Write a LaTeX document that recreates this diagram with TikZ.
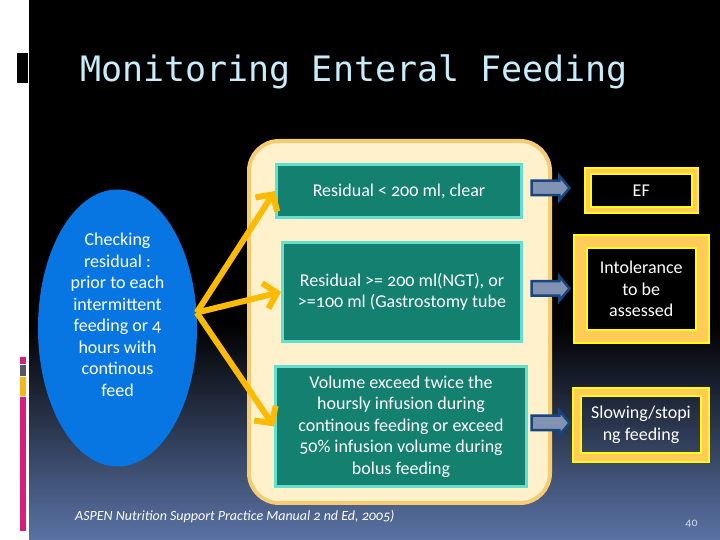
\documentclass[tikz,border=0pt]{standalone}
\usepackage{fontspec}
\setmainfont{Carlito}[Numbers=OldStyle]
\newfontfamily\titlefont{DejaVu Sans Mono}
\usepackage{tikz}
\usetikzlibrary{positioning, arrows.meta, shapes.geometric, shapes.arrows}
\definecolor{bgblue}{RGB}{90,115,165}
\definecolor{titlecyan}{RGB}{200,236,250}
\definecolor{ellblue}{RGB}{8,118,226}
\definecolor{creamfill}{RGB}{255,241,204}
\definecolor{creamedge}{RGB}{247,204,112}
\definecolor{tealfill}{RGB}{20,128,112}
\definecolor{aquaedge}{RGB}{100,222,206}
\definecolor{forkyellow}{RGB}{252,186,0}
\definecolor{arrowgray}{RGB}{130,146,180}
\definecolor{navyedge}{RGB}{22,70,125}
\definecolor{brightyellow}{RGB}{255,250,20}
\definecolor{goldband}{RGB}{255,204,90}
\definecolor{barpink}{RGB}{218,28,122}
\definecolor{bargray}{RGB}{85,88,100}
\definecolor{baryellow}{RGB}{245,182,30}
\definecolor{pagegray}{RGB}{205,215,235}

\begin{document}
\begin{tikzpicture}[
        x=1pt, y=1pt,
        bodyfont/.style = {font=\fontsize{18}{21.5}\selectfont},
        resbox/.style = {draw=aquaedge, fill=tealfill, line width=3pt, inner sep=0pt, align=center, text=white, bodyfont},
        outbox/.style = {draw=brightyellow, double=goldband, line width=2pt, inner sep=0pt, align=center, text=white, bodyfont},
        fork/.style = {-{Straight Barb[length=12pt, width=26pt]}, line width=6pt, forkyellow},
        blockarrow/.style = {single arrow, draw=navyedge, fill=arrowgray, line width=2.5pt, minimum height=38pt, inner xsep=0pt, inner ysep=6pt, single arrow head extend=5pt, single arrow tip angle=100},
    ]
        \useasboundingbox (0,0) rectangle (720,540);
        \fill[white] (0,0) rectangle (720,540);
        \fill[black] (29,216) rectangle (720,540);
        \shade[top color=black, bottom color=bgblue] (29,0) rectangle (720,216.5);
        \fill[black] (17,457) rectangle (28,487);
        \fill[barpink] (20,176) rectangle (26,183);
        \fill[bargray] (20,164) rectangle (26,175);
        \fill[baryellow] (20,144) rectangle (26,163);
        \fill[barpink] (20,9) rectangle (26,143);

        \node[anchor=base west, inner sep=0pt, text=titlecyan, font=\titlefont\fontsize{35}{40}\selectfont] (title) at (80,458) {Monitoring Enteral Feeding};

        \node[ellipse, fill=ellblue, minimum width=159pt, minimum height=277pt, inner sep=0pt] (check) at (117.5,212) {};
        \node[bodyfont, text=white, align=center, inner sep=0pt] (checktext) at (117.5,225) {Checking\\residual :\\prior to each\\intermittent\\feeding or 4\\hours with\\continous\\feed};

        \node[draw=creamedge, fill=creamfill, line width=4pt, rounded corners=30pt, minimum width=301pt, minimum height=362pt] (panel) at (399.5,218) {};
        \node[resbox, minimum width=245pt, minimum height=53pt] (res1) at (399,349) {Residual < 200 ml, clear};
        \node[resbox, minimum width=239pt, minimum height=99pt] (res2) at (402,248) {Residual >= 200 ml(NGT), or\\>=100 ml (Gastrostomy tube};
        \node[resbox, minimum width=251pt, minimum height=120pt] (res3) at (401,113.5) {Volume exceed twice the\\hoursly infusion during\\continous feeding or exceed\\50\% infusion volume during\\bolus feeding};

        \draw[fork] (check.11) -- (res1.west);
        \draw[fork] (check.11) -- (res2.west);
        \draw[fork] (check.11) -- (res3.west);

        \node[outbox, double distance=4pt, minimum width=106.5pt, minimum height=39.5pt] (ef) at (641.25,349.25) {EF};
        \node[outbox, double distance=11pt, minimum width=122.5pt, minimum height=95pt] (intol) at (641.25,251) {Intolerance\\to be\\assessed};
        \node[outbox, double distance=6.5pt, minimum width=128pt, minimum height=65.5pt] (slow) at (641,115.25) {Slowing/stopi\\ng feeding};

        \node[blockarrow] (a1) at (547.5,352) {};
        \node[blockarrow] (a2) at (547.5,251.5) {};
        \node[blockarrow] (a3) at (547.5,117) {};

        \node[anchor=base west, inner sep=0pt, text=white, font=\itshape\fontsize{14}{16}\selectfont] (source) at (75,19) {ASPEN Nutrition Support Practice Manual 2 nd Ed, 2005)};
        \node[anchor=base, inner sep=0pt, text=pagegray, font=\fontsize{12}{13}\selectfont] (page) at (691.5,13) {40};
    \end{tikzpicture}
\end{document}
